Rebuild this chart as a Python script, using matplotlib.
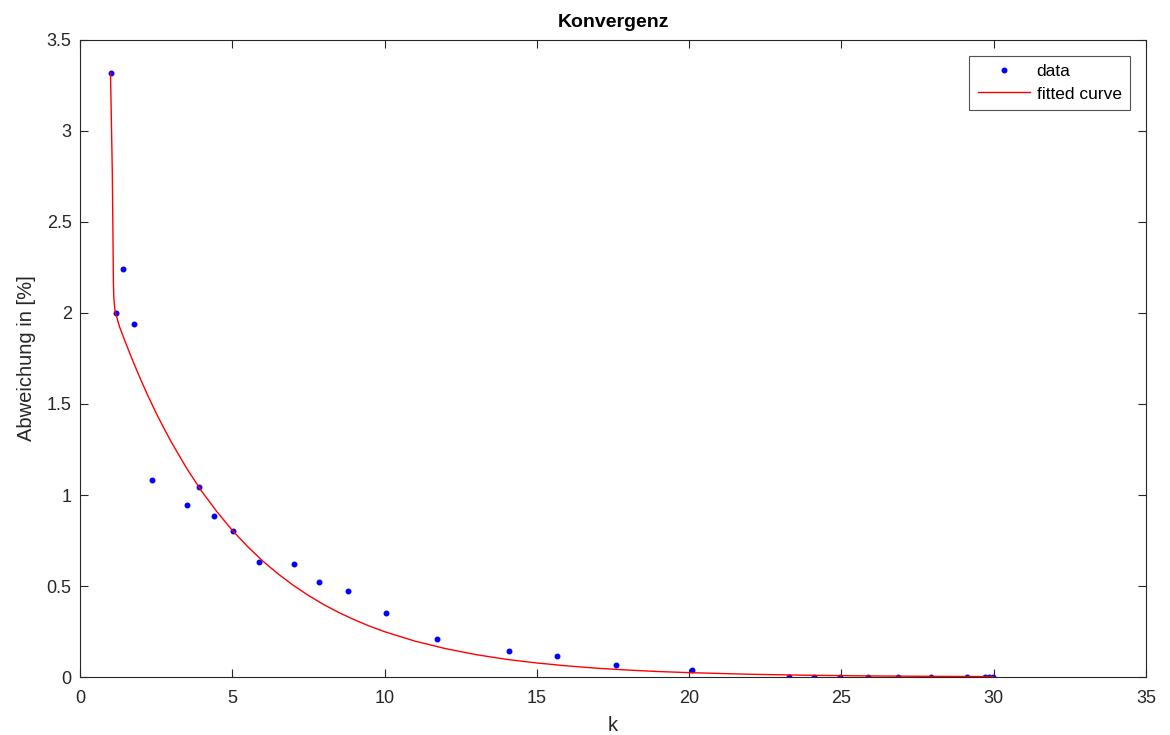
import matplotlib.pyplot as plt

plt.rcParams['font.family'] = ['Liberation Sans', 'DejaVu Sans']

# Messpunkte
k_data = [1.01, 1.17, 1.41, 1.76, 2.35, 3.52, 3.92, 4.41, 5.03, 5.88,
          7.04, 7.83, 8.80, 10.06, 11.73, 14.09, 15.65, 17.59, 20.1,
          23.27, 24.10, 24.95, 25.88, 26.87, 27.94, 29.11, 29.72, 29.85, 29.97]
abw_data = [3.32, 2.00, 2.24, 1.94, 1.08, 0.945, 1.042, 0.886, 0.80, 0.633,
            0.62, 0.52, 0.475, 0.35, 0.21, 0.145, 0.117, 0.068, 0.038,
            0.002, 0.002, 0.002, 0.002, 0.002, 0.001, 0.001, 0.001, 0.001, 0.001]

k_fit = [1.00, 1.03, 1.06, 1.08, 1.095, 1.11, 1.15, 1.3, 1.5, 1.75, 2.0,
         2.25, 2.5, 2.75, 3.0, 3.5, 4.0, 4.5, 5.0, 5.5, 6.0, 6.5, 7.0,
         7.5, 8.0, 8.5, 9.0, 9.5, 10.0, 11.0, 12.0, 13.0, 14.0, 15.0,
         16.0, 17.0, 18.0, 19.0, 20.0, 22.0, 24.0, 26.0, 28.0, 30.0]
abw_fit = [3.32, 3.05, 2.77, 2.45, 2.18, 2.08, 2.01, 1.923, 1.835, 1.730,
           1.631, 1.538, 1.450, 1.368, 1.290, 1.147, 1.019, 0.907, 0.806,
           0.717, 0.637, 0.567, 0.504, 0.448, 0.398, 0.354, 0.315, 0.280,
           0.249, 0.197, 0.156, 0.123, 0.097, 0.077, 0.061, 0.048, 0.038,
           0.030, 0.024, 0.015, 0.0093, 0.0058, 0.0036, 0.0023]

fig = plt.figure(figsize=(11.7, 7.35), dpi=100)
ax = fig.add_axes([0.0684, 0.0789, 0.9111, 0.8667])

ax.plot(k_data, abw_data, '.', color='blue', markersize=6.5, label='data')
ax.plot(k_fit, abw_fit, '-', color='red', linewidth=1.0, label='fitted curve')

ax.set_xlim(0, 35)
ax.set_ylim(0, 3.5)
ax.set_xticks(range(0, 36, 5))
ax.set_yticks([0, 0.5, 1, 1.5, 2, 2.5, 3, 3.5])
ax.set_yticklabels(['0', '0.5', '1', '1.5', '2', '2.5', '3', '3.5'])

ax.tick_params(direction='in', top=True, right=True, length=6,
               labelsize=13, colors='#262626')
ax.tick_params(axis='x', pad=9)
ax.tick_params(axis='y', pad=6)
for s in ax.spines.values():
    s.set_color('#262626')
    s.set_linewidth(0.8)

ax.set_title('Konvergenz', fontsize=14, fontweight='bold', pad=9)
ax.set_xlabel('k', fontsize=14.5, color='#262626', labelpad=7)
ax.set_ylabel('Abweichung in [%]', fontsize=14.5, color='#262626', labelpad=8)

leg = ax.legend(loc='upper right', fontsize=12.5, frameon=True, fancybox=False,
                edgecolor='#262626', borderaxespad=0.9, handlelength=3.0,
                borderpad=0.5, labelspacing=0.4, handletextpad=0.4)
leg.get_frame().set_linewidth(0.8)

fig.savefig('out.png', dpi=100)
